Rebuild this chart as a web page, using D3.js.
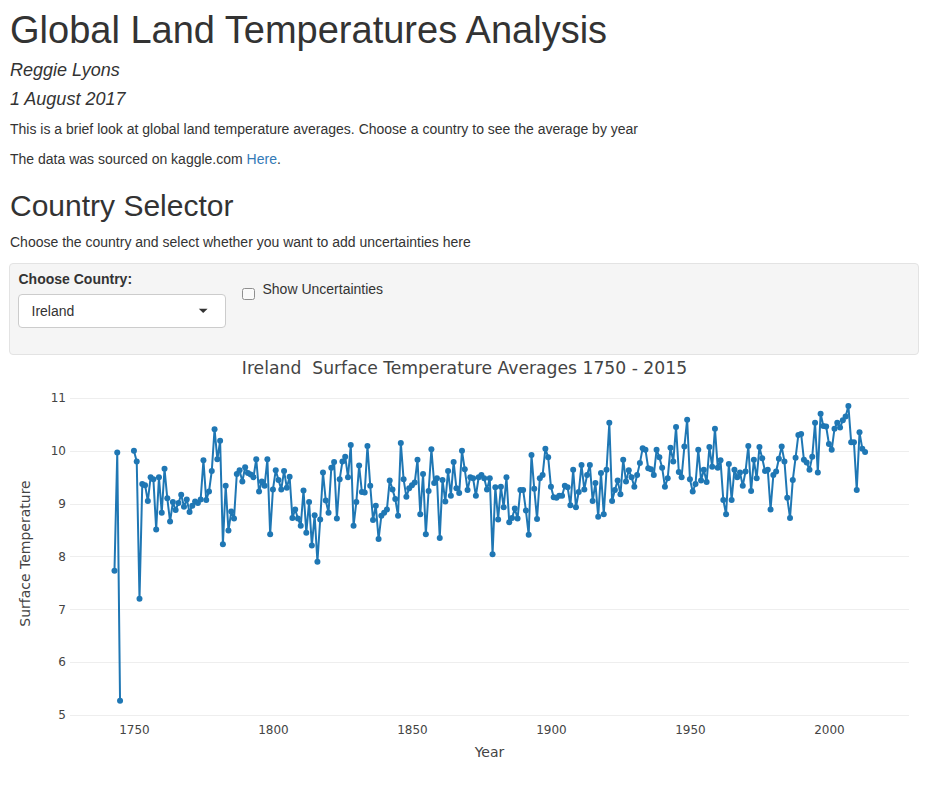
<!DOCTYPE html>
<html>
<head>
<meta charset="utf-8">
<script src="https://cdn.jsdelivr.net/npm/d3@7"></script>
<style>
  html, body { margin: 0; padding: 0; background: #fff; }
  body { width: 939px; height: 785px; position: relative; overflow: hidden;
         font-family: "Liberation Sans", Arial, Helvetica, sans-serif; color: #333; }
  .t { position: absolute; left: 10px; line-height: 1; white-space: nowrap; }
  #chart { position: absolute; left: 0; top: 0; }
  a { color: #337ab7; text-decoration: none; }
</style>
</head>
<body>
<div class="t" style="top:11px;font-size:38px;">Global Land Temperatures Analysis</div>
<div class="t" style="top:60.8px;font-size:18px;font-style:italic;">Reggie Lyons</div>
<div class="t" style="top:89.8px;font-size:18px;font-style:italic;">1 August 2017</div>
<div class="t" style="top:122.1px;font-size:14px;">This is a brief look at global land temperature averages. Choose a country to see the average by year</div>
<div class="t" style="top:152.1px;font-size:14px;">The data was sourced on kaggle.com <a href="#">Here</a>.</div>
<div class="t" style="top:190.6px;font-size:30px;">Country Selector</div>
<div class="t" style="top:235.1px;font-size:14px;">Choose the country and select whether you want to add uncertainties here</div>

<div style="position:absolute;left:9px;top:262.5px;width:908px;height:90.5px;background:#f5f5f5;border:1px solid #e3e3e3;border-radius:4px;"></div>
<div class="t" style="left:18.5px;top:271.6px;font-size:14px;font-weight:bold;">Choose Country:</div>
<div style="position:absolute;left:18.3px;top:294.3px;width:205.5px;height:31.5px;background:#fff;border:1px solid #ccc;border-radius:4px;"></div>
<div class="t" style="left:31.5px;top:304.1px;font-size:14px;">Ireland</div>
<svg style="position:absolute;left:0;top:0;" width="939" height="785" pointer-events="none">
  <path d="M198.8,308.7 L207.6,308.7 L203.2,313 Z" fill="#333"></path>
</svg>
<div style="position:absolute;left:242.3px;top:287.7px;width:10.5px;height:10.5px;background:#fafafa;border:1px solid #8f8f8f;border-radius:2.5px;"></div>
<div class="t" style="left:262.5px;top:282.4px;font-size:14px;">Show Uncertainties</div>

<svg id="chart" width="939" height="785"></svg>

<script>
// ---- data ----
const years = [1743,1744,1745,1746,1747,1748,1749,
1750,1751,1752,1753,1754,1755,1756,1757,1758,1759,
1760,1761,1762,1763,1764,1765,1766,1767,1768,1769,
1770,1771,1772,1773,1774,1775,1776,1777,1778,1779,
1780,1781,1782,1783,1784,1785,1786,1787,1788,1789,
1790,1791,1792,1793,1794,1795,1796,1797,1798,1799,
1800,1801,1802,1803,1804,1805,1806,1807,1808,1809,
1810,1811,1812,1813,1814,1815,1816,1817,1818,1819,
1820,1821,1822,1823,1824,1825,1826,1827,1828,1829,
1830,1831,1832,1833,1834,1835,1836,1837,1838,1839,
1840,1841,1842,1843,1844,1845,1846,1847,1848,1849,
1850,1851,1852,1853,1854,1855,1856,1857,1858,1859,
1860,1861,1862,1863,1864,1865,1866,1867,1868,1869,
1870,1871,1872,1873,1874,1875,1876,1877,1878,1879,
1880,1881,1882,1883,1884,1885,1886,1887,1888,1889,
1890,1891,1892,1893,1894,1895,1896,1897,1898,1899,
1900,1901,1902,1903,1904,1905,1906,1907,1908,1909,
1910,1911,1912,1913,1914,1915,1916,1917,1918,1919,
1920,1921,1922,1923,1924,1925,1926,1927,1928,1929,
1930,1931,1932,1933,1934,1935,1936,1937,1938,1939,
1940,1941,1942,1943,1944,1945,1946,1947,1948,1949,
1950,1951,1952,1953,1954,1955,1956,1957,1958,1959,
1960,1961,1962,1963,1964,1965,1966,1967,1968,1969,
1970,1971,1972,1973,1974,1975,1976,1977,1978,1979,
1980,1981,1982,1983,1984,1985,1986,1987,1988,1989,
1990,1991,1992,1993,1994,1995,1996,1997,1998,1999,
2000,2001,2002,2003,2004,2005,2006,2007,2008,2009,
2010,2011,2012,2013];

const temps = [7.73,9.97,5.27,null,null,null,null,
10.00,9.80,7.20,9.37,9.35,9.05,9.50,9.46,8.51,9.50,
8.83,9.66,9.10,8.66,9.03,8.88,9.01,9.17,8.94,9.08,
8.84,8.96,9.04,9.01,9.08,9.82,9.07,9.23,9.62,10.41,
9.84,10.19,8.23,9.34,8.49,8.85,8.72,9.56,9.63,9.42,
9.69,9.58,9.55,9.50,9.84,9.23,9.42,9.34,9.84,8.42,
9.27,9.63,9.45,9.27,9.62,9.30,9.51,8.73,8.89,8.72,
8.58,9.25,8.45,9.03,8.21,8.78,7.90,8.70,9.59,9.06,
8.83,9.68,9.79,8.72,9.46,9.80,9.89,9.50,10.11,8.58,
9.03,9.72,9.22,9.21,10.09,9.34,8.69,8.96,8.33,8.77,
8.83,8.89,9.44,9.27,9.09,8.77,10.15,9.46,9.13,9.29,
9.35,9.40,9.83,8.80,9.56,8.42,9.24,10.03,9.39,9.48,
8.35,9.45,9.04,9.62,9.15,9.79,9.29,9.20,10.00,9.65,
9.26,9.50,9.48,9.15,9.50,9.54,9.48,9.27,9.48,8.04,
9.31,8.70,9.32,8.93,9.50,8.65,8.73,8.91,8.72,9.26,
9.26,8.87,8.41,9.92,9.28,8.71,9.48,9.54,10.04,9.88,
9.32,9.12,9.11,9.15,9.15,9.34,9.31,8.97,9.64,8.93,
9.22,9.73,9.27,9.54,9.73,9.05,9.39,8.75,9.58,8.80,
9.64,10.53,9.05,9.26,9.44,9.18,9.83,9.42,9.63,9.50,
9.32,9.54,9.77,10.05,10.02,9.67,9.65,9.54,10.02,9.88,
9.68,9.32,9.48,10.06,9.80,10.45,9.60,9.50,10.08,10.59,
9.46,9.23,9.37,10.02,9.44,9.64,9.41,10.07,9.70,10.42,
9.68,9.82,9.07,8.80,9.75,9.07,9.64,9.50,9.59,9.34,
9.61,10.09,9.24,9.83,9.48,10.07,9.86,9.62,9.64,8.89,
9.54,9.61,9.85,10.08,9.80,9.11,8.73,9.45,9.87,10.30,
10.32,9.83,9.78,9.64,9.89,10.53,9.59,10.70,10.47,10.46,
10.13,10.02,10.42,10.53,10.44,10.58,10.65,10.85,10.16,10.16,
9.26,10.35,10.04,9.98];

const xTicks = [1750, 1800, 1850, 1900, 1950, 2000];
const yTicks = [5, 6, 7, 8, 9, 10, 11];
const chartTitle = "Ireland  Surface Temperature Averages 1750 - 2015";
const xTitle = "Year";
const yTitle = "Surface Temperature";

(function () {
  const svg = d3.select("#chart");
  const pL = 70, pR = 909, pT = 387, pB = 720;
  const font = "'DejaVu Sans', Verdana, sans-serif";

  const x = d3.scaleLinear().domain([1727.0, 2028.8]).range([pL, pR]);
  const y = d3.scaleLinear().domain([4.905, 11.208]).range([pB, pT]);

  const data = years.map((yr, i) => ({ yr, v: temps[i] }));

  // gridlines
  svg.append("g").selectAll("line").data(yTicks).join("line")
    .attr("x1", pL).attr("x2", pR)
    .attr("y1", d => Math.round(y(d)) + 0.5).attr("y2", d => Math.round(y(d)) + 0.5)
    .attr("stroke", "#eee").attr("stroke-width", 1);

  // y axis labels
  const yAxis = d3.axisLeft(y).tickValues(yTicks).tickSize(0).tickPadding(4).tickFormat(d3.format("d"));
  const gy = svg.append("g").attr("transform", `translate(${pL},0)`).call(yAxis);
  gy.select(".domain").remove();
  gy.selectAll("text").attr("font-family", font).attr("font-size", 12).attr("fill", "#444");

  // x axis labels
  const xAxis = d3.axisBottom(x).tickValues(xTicks).tickSize(0).tickPadding(5).tickFormat(d3.format("d"));
  const gx = svg.append("g").attr("transform", `translate(0,${pB})`).call(xAxis);
  gx.select(".domain").remove();
  gx.selectAll("text").attr("font-family", font).attr("font-size", 12).attr("fill", "#444");

  // line + markers
  const line = d3.line().defined(d => d.v != null).x(d => x(d.yr)).y(d => y(d.v));
  svg.append("path").datum(data).attr("d", line)
    .attr("fill", "none").attr("stroke", "#1f77b4").attr("stroke-width", 2)
    .attr("stroke-linejoin", "round");

  svg.append("g").selectAll("circle").data(data.filter(d => d.v != null)).join("circle")
    .attr("cx", d => x(d.yr)).attr("cy", d => y(d.v)).attr("r", 3)
    .attr("fill", "#1f77b4");

  // titles
  svg.append("text").attr("x", 464.5).attr("y", 374).attr("text-anchor", "middle")
    .style("white-space", "pre").attr("xml:space", "preserve")
    .attr("font-family", font).attr("font-size", 17.2).attr("fill", "#444").text(chartTitle);
  svg.append("text").attr("x", (pL + pR) / 2).attr("y", 757).attr("text-anchor", "middle")
    .attr("font-family", font).attr("font-size", 14).attr("fill", "#444").text(xTitle);
  svg.append("text").attr("transform", `translate(30,${(pT + pB) / 2}) rotate(-90)`)
    .attr("text-anchor", "middle")
    .attr("font-family", font).attr("font-size", 14).attr("fill", "#444").text(yTitle);
})();
</script>
</body>
</html>
